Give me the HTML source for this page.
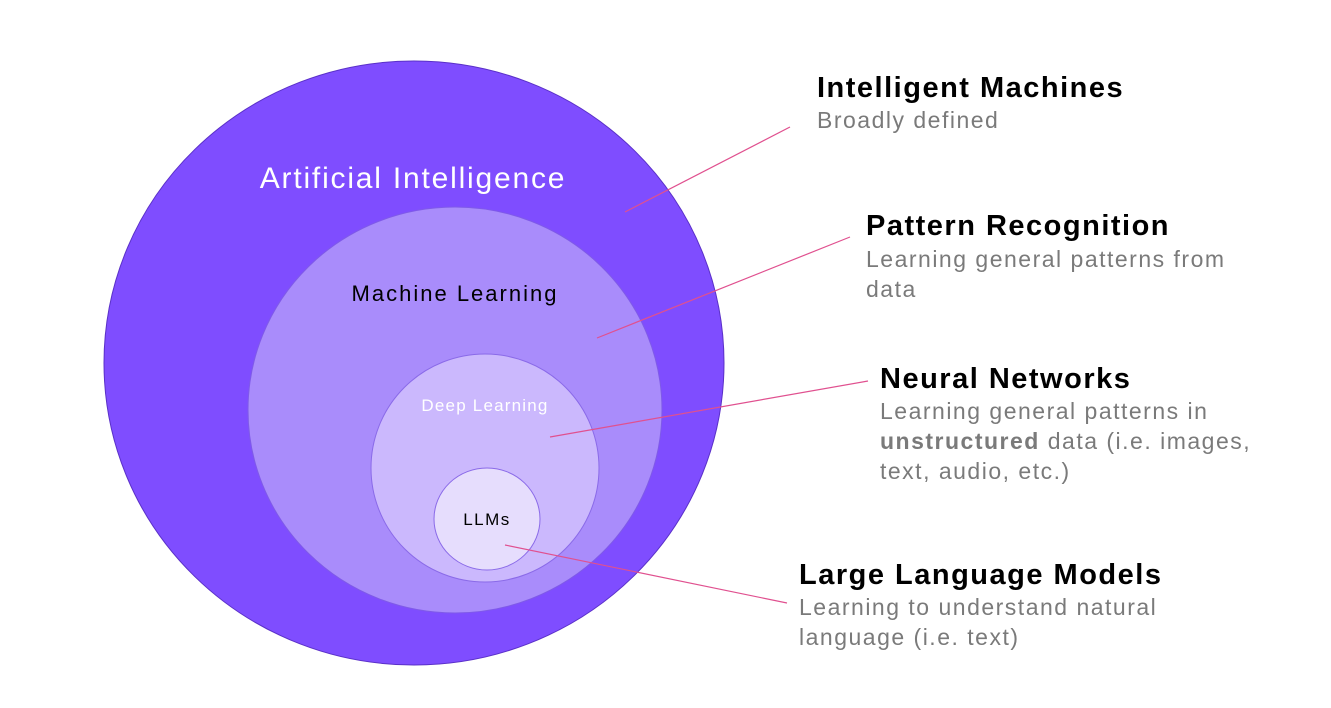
<!DOCTYPE html>
<html><head><meta charset="utf-8"><style>
html,body{margin:0;padding:0;background:#fff;}
svg{display:block;}
.h{font-family:"Liberation Sans",sans-serif;font-weight:bold;font-size:29px;fill:#000;letter-spacing:1.5px;}
.s{font-family:"Liberation Sans",sans-serif;font-size:23px;fill:#7a7a7a;letter-spacing:1.5px;}
</style></head><body>
<svg width="1331" height="708" viewBox="0 0 1331 708" xmlns="http://www.w3.org/2000/svg">
<ellipse cx="414" cy="363" rx="310" ry="302" fill="#7f4dff" stroke="#5a30c8" stroke-width="1"/>
<ellipse cx="455" cy="410" rx="207" ry="203" fill="#a98cfb" stroke="#7f5ae8" stroke-width="1"/>
<ellipse cx="485" cy="468" rx="114" ry="114" fill="#cbb8fd" stroke="#8a6ae8" stroke-width="1"/>
<ellipse cx="487" cy="519" rx="53" ry="51" fill="#e6ddfd" stroke="#8a6ae8" stroke-width="1"/>
<text x="413" y="188" text-anchor="middle" font-family="Liberation Sans, sans-serif" font-size="30" letter-spacing="1.8" fill="#fff">Artificial Intelligence</text>
<text x="455" y="301" text-anchor="middle" font-family="Liberation Sans, sans-serif" font-size="22" letter-spacing="2" fill="#000">Machine Learning</text>
<text x="485" y="411" text-anchor="middle" font-family="Liberation Sans, sans-serif" font-size="17" letter-spacing="1.2" fill="#fff">Deep Learning</text>
<text x="487" y="525" text-anchor="middle" font-family="Liberation Sans, sans-serif" font-size="17" letter-spacing="1.5" fill="#000">LLMs</text>
<g stroke="#e0508f" stroke-width="1.2">
<line x1="625" y1="212" x2="790" y2="127"/>
<line x1="597" y1="338" x2="850" y2="237"/>
<line x1="550" y1="437" x2="868" y2="381"/>
<line x1="505" y1="545" x2="787" y2="603"/>
</g>
<text class="h" x="817" y="97">Intelligent Machines</text>
<text class="s" x="817" y="128">Broadly defined</text>
<text class="h" x="866" y="235">Pattern Recognition</text>
<text class="s" x="866" y="267">Learning general patterns from</text>
<text class="s" x="866" y="297">data</text>
<text class="h" x="880" y="388">Neural Networks</text>
<text class="s" x="880" y="419">Learning general patterns in</text>
<text class="s" x="880" y="449"><tspan font-weight="bold">unstructured</tspan> data (i.e. images,</text>
<text class="s" x="880" y="479">text, audio, etc.)</text>
<text class="h" x="799" y="584">Large Language Models</text>
<text class="s" x="799" y="615">Learning to understand natural</text>
<text class="s" x="799" y="645">language (i.e. text)</text>
</svg>
</body></html>
